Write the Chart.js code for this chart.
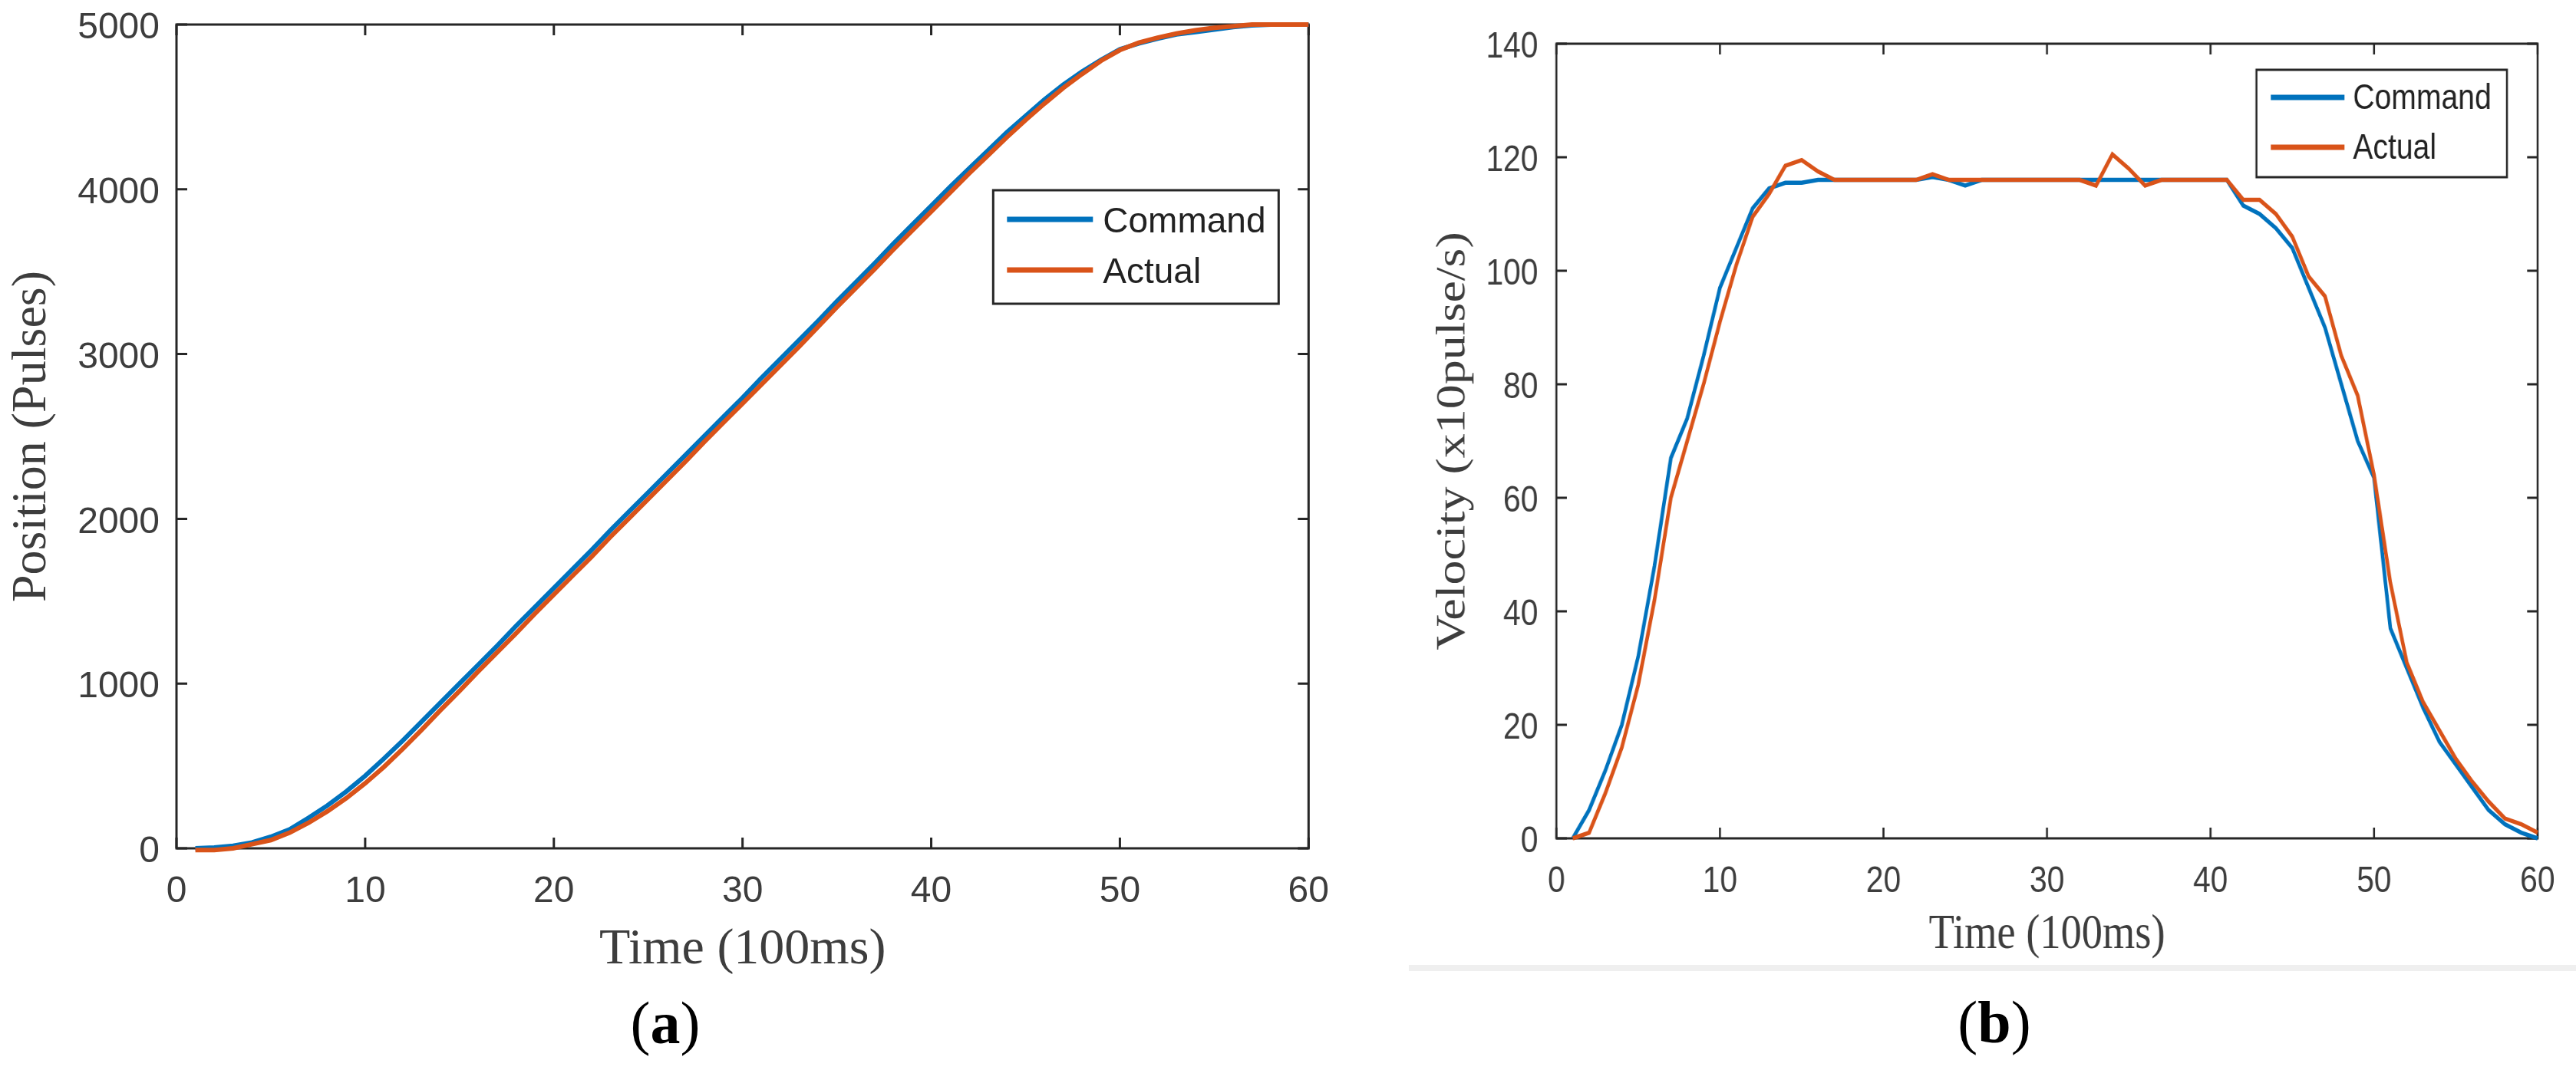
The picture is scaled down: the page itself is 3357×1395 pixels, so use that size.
<!DOCTYPE html>
<html>
<head>
<meta charset="utf-8">
<title>Position and velocity response</title>
<script src="https://cdn.jsdelivr.net/npm/chart.js@4.4.1/dist/chart.umd.min.js"></script>
<style>
  html, body { margin: 0; padding: 0; background: #fff; }
  body { width: 3357px; height: 1395px; position: relative; overflow: hidden; }
  canvas { position: absolute; }
  #chart-a { left: 0; top: -19px; width: 1760px; height: 1300px; }
  /* panel (b) is horizontally squeezed in the source figure */
  #chart-b { left: 1820px; top: 0; width: 1804px; height: 1290px; transform: scaleX(0.85); transform-origin: 0 0; }
  .caption { position: absolute; font-family: 'Liberation Serif', serif; font-size: 78px; color: #000; transform: translate(-50%, -50%); white-space: nowrap; }
  #rule { position: absolute; left: 1836px; top: 1258px; width: 1521px; height: 8px; background: #efefef; }
</style>
</head>
<body>
<div id="rule"></div>
<canvas id="chart-a" width="1760" height="1300"></canvas>
<canvas id="chart-b" width="1804" height="1290"></canvas>
<div class="caption" style="left:867px; top:1334px">(<b>a</b>)</div>
<div class="caption" style="left:2599px; top:1333px">(<b>b</b>)</div>

<script>
// time axis, unit = 100 ms
const time = [1, 2, 3, 4, 5, 6, 7, 8, 9, 10,
  11, 12, 13, 14, 15, 16, 17, 18, 19, 20,
  21, 22, 23, 24, 25, 26, 27, 28, 29, 30,
  31, 32, 33, 34, 35, 36, 37, 38, 39, 40,
  41, 42, 43, 44, 45, 46, 47, 48, 49, 50,
  51, 52, 53, 54, 55, 56, 57, 58, 59, 60];

// (a) position, pulses
const posCommand = [0, 5, 15, 35, 70, 115, 185, 260, 345, 440,
  545, 655, 770, 885, 1000, 1115, 1230, 1350, 1465, 1580,
  1695, 1810, 1930, 2045, 2160, 2275, 2390, 2505, 2620, 2735,
  2855, 2970, 3085, 3200, 3320, 3435, 3550, 3670, 3785, 3900,
  4015, 4125, 4235, 4345, 4445, 4545, 4635, 4715, 4785, 4850,
  4885, 4915, 4940, 4955, 4970, 4985, 4995, 5000, 5000, 5000];
const posActual = [-10, -10, 0, 25, 50, 95, 155, 225, 305, 395,
  495, 605, 720, 840, 955, 1075, 1190, 1305, 1425, 1540,
  1655, 1770, 1890, 2005, 2120, 2235, 2350, 2470, 2585, 2700,
  2815, 2930, 3045, 3165, 3285, 3400, 3515, 3635, 3750, 3865,
  3980, 4095, 4205, 4315, 4420, 4520, 4615, 4700, 4780, 4845,
  4890, 4920, 4945, 4965, 4980, 4990, 5000, 5000, 5000, 5000];

// (b) velocity, x10 pulse/s
const velCommand = [0, 5, 12, 20, 32, 48, 67, 74, 85, 97,
  104, 111, 114.5, 115.5, 115.5, 116, 116, 116, 116, 116,
  116, 116, 116.5, 116, 115, 116, 116, 116, 116, 116,
  116, 116, 116, 116, 116, 116, 116, 116, 116, 116,
  116, 111.5, 110, 107.5, 104, 97, 90, 80, 70, 63.5,
  37, 30, 23, 17, 13, 9, 5, 2.5, 1, 0];
const velActual = [0, 1, 8, 16, 27, 42, 60, 70, 80, 91,
  101, 109.5, 113.5, 118.5, 119.5, 117.5, 116, 116, 116, 116,
  116, 116, 117, 116, 116, 116, 116, 116, 116, 116,
  116, 116, 115, 120.5, 118, 115, 116, 116, 116, 116,
  116, 112.5, 112.5, 110, 106, 99, 95.5, 85, 78, 64,
  45, 31, 24, 19, 14, 10, 6.5, 3.5, 2.5, 1];

const xTicks = [0, 10, 20, 30, 40, 50, 60];
const posTicks = [0, 1000, 2000, 3000, 4000, 5000];
const velTicks = [0, 20, 40, 60, 80, 100, 120, 140];

const BLUE = '#0072BD';
const ORANGE = '#D95319';
const INK = '#262626';
const LABEL = '#3d3d3d';
const SERIF = "'Liberation Serif', 'Times New Roman', serif";

Chart.defaults.font.family = "'Liberation Sans', Arial, sans-serif";

function toPoints(xs, ys) {
    return xs.map((x, i) => ({ x: x, y: ys[i] }));
}

// Matlab style box: frame on all four sides, ticks pointing inward
const boxFrame = {
    id: 'boxFrame',
    beforeDatasetsDraw(chart, args, opts) {
        const { ctx, chartArea: a, scales } = chart;
        ctx.save();
        ctx.strokeStyle = INK;
        ctx.lineWidth = 3;
        ctx.strokeRect(a.left, a.top, a.right - a.left, a.bottom - a.top);
        ctx.beginPath();
        scales.x.ticks.forEach(t => {
            const px = scales.x.getPixelForValue(t.value);
            ctx.moveTo(px, a.bottom); ctx.lineTo(px, a.bottom - opts.lenX);
            ctx.moveTo(px, a.top); ctx.lineTo(px, a.top + opts.lenX);
        });
        scales.y.ticks.forEach(t => {
            const py = scales.y.getPixelForValue(t.value);
            ctx.moveTo(a.left, py); ctx.lineTo(a.left + opts.lenY, py);
            ctx.moveTo(a.right, py); ctx.lineTo(a.right - opts.lenY, py);
        });
        ctx.stroke();
        ctx.restore();
    }
};

// boxed legend sitting inside the plot area
const boxLegend = {
    id: 'boxLegend',
    afterDraw(chart, args, opts) {
        const { ctx, chartArea: a } = chart;
        const x0 = a.right - opts.right - opts.width;
        const y0 = a.top + opts.top;
        ctx.save();
        ctx.fillStyle = '#fff';
        ctx.fillRect(x0, y0, opts.width, opts.height);
        ctx.strokeStyle = INK;
        ctx.lineWidth = 3;
        ctx.strokeRect(x0, y0, opts.width, opts.height);
        ctx.font = opts.fontSize + "px 'Liberation Sans', Arial, sans-serif";
        ctx.textBaseline = 'middle';
        chart.data.datasets.forEach((ds, i) => {
            const y = y0 + opts.rowTop + i * opts.rowGap;
            ctx.strokeStyle = ds.borderColor;
            ctx.lineWidth = 7;
            ctx.beginPath();
            ctx.moveTo(x0 + opts.lineStart, y);
            ctx.lineTo(x0 + opts.lineStart + opts.lineLen, y);
            ctx.stroke();
            ctx.fillStyle = '#222';
            ctx.fillText(ds.label, x0 + opts.lineStart + opts.lineLen + opts.gap, y + opts.textDy);
        });
        ctx.restore();
    }
};

function makeChart(canvasId, cfg) {
    const ctx = document.getElementById(canvasId);
    return new Chart(ctx, {
        type: 'line',
        data: {
            datasets: [
                { label: 'Command', data: toPoints(time, cfg.command), borderColor: BLUE, borderWidth: cfg.lineWidth,
                  pointRadius: 0, tension: 0, order: 2, clip: 8 },
                { label: 'Actual', data: toPoints(time, cfg.actual), borderColor: ORANGE, borderWidth: cfg.lineWidth,
                  pointRadius: 0, tension: 0, order: 1, clip: 8 }
            ]
        },
        options: {
            responsive: false,
            animation: false,
            devicePixelRatio: 1,
            layout: { padding: { top: cfg.padTop, right: cfg.padRight, left: 0, bottom: 0 } },
            plugins: {
                legend: { display: false },
                tooltip: { enabled: false },
                boxFrame: { lenX: 14, lenY: cfg.tickLenY },
                boxLegend: cfg.legend
            },
            scales: {
                x: {
                    type: 'linear', min: 0, max: 60,
                    grid: { display: false, drawTicks: false, tickLength: 0 },
                    border: { display: false },
                    afterBuildTicks: s => { s.ticks = xTicks.map(v => ({ value: v })); },
                    ticks: { padding: 28, color: LABEL, font: { size: 48 }, maxRotation: 0, autoSkip: false,
                             callback: v => String(v) },
                    title: { display: true, text: 'Time (100ms)', color: LABEL,
                             font: { family: SERIF, size: cfg.xTitleSize },
                             padding: { top: 0, bottom: cfg.xTitlePad } },
                    afterFit: s => { s.height = cfg.xHeight; }
                },
                y: {
                    type: 'linear', min: 0, max: cfg.yMax,
                    grid: { display: false, drawTicks: false, tickLength: 0 },
                    border: { display: false },
                    afterBuildTicks: s => { s.ticks = cfg.yTicks.map(v => ({ value: v })); },
                    ticks: { padding: cfg.yTickPad, color: LABEL, font: { size: 48 }, labelOffset: 5, autoSkip: false,
                             callback: v => String(v) },
                    title: { display: true, text: cfg.yTitle, color: LABEL,
                             font: { family: SERIF, size: 64 },
                             padding: { top: cfg.yTitlePad, bottom: 0 } },
                    afterFit: s => { s.width = cfg.yWidth; }
                }
            }
        },
        plugins: [boxFrame, boxLegend]
    });
}

// canvas (a) is lifted 19px so that the plot top lands at y = 32
makeChart('chart-a', {
    command: posCommand, actual: posActual, lineWidth: 6,
    yMax: 5000, yTicks: posTicks, yTitle: 'Position (Pulses)',
    padTop: 51, padRight: 47, yWidth: 230, xHeight: 175,
    yTickPad: 22, tickLenY: 14, xTitleSize: 66, xTitlePad: 3, yTitlePad: 4,
    legend: { right: 39, top: 216, width: 372, height: 148, lineStart: 18, lineLen: 112,
              gap: 13, rowTop: 38, rowGap: 66, fontSize: 46, textDy: 4 }
});

makeChart('chart-b', {
    command: velCommand, actual: velActual, lineWidth: 5.5,
    yMax: 140, yTicks: velTicks, yTitle: 'Velocity (x10pulse/s)',
    padTop: 57, padRight: 45, yWidth: 245, xHeight: 197,
    yTickPad: 28, tickLenY: 16, xTitleSize: 64, xTitlePad: 32, yTitlePad: 49,
    legend: { right: 47, top: 34, width: 384, height: 140, lineStart: 22, lineLen: 113,
              gap: 13, rowTop: 36, rowGap: 65, fontSize: 46, textDy: 2 }
});
</script>
</body>
</html>
